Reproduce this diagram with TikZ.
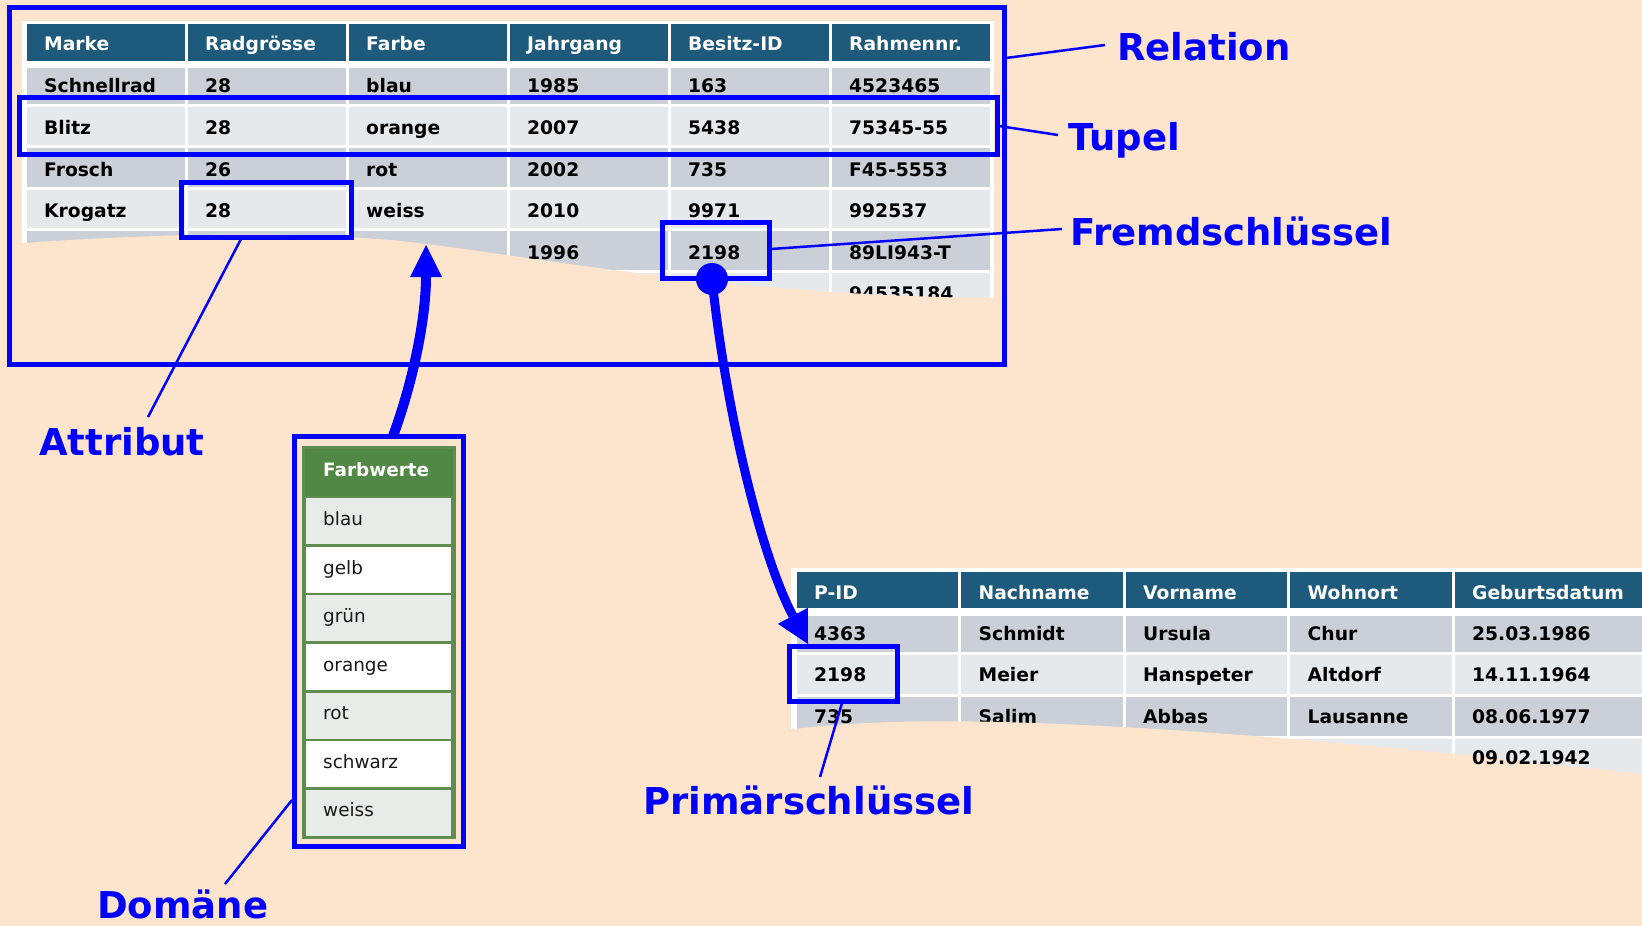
\documentclass[tikz,border=0pt]{standalone}
\usepackage{fontspec}
\setmainfont{DejaVu Sans}
\usetikzlibrary{arrows.meta,fit}
\definecolor{bgpeach}{RGB}{253,228,205}
\definecolor{hdblue}{RGB}{30,90,124}
\definecolor{rowdark}{RGB}{203,208,216}
\definecolor{rowlight}{RGB}{230,233,236}
\definecolor{annoblue}{RGB}{0,0,255}
\definecolor{grhead}{RGB}{82,136,70}
\definecolor{grline}{RGB}{95,140,80}
\definecolor{grrow}{RGB}{232,236,232}
\definecolor{txtdark}{RGB}{25,25,25}
\begin{document}
\begin{tikzpicture}[x=1pt,y=-1pt,
  ttxt/.style={anchor=base west, inner sep=0pt, text=black, font=\fontsize{18.7}{22}\selectfont\bfseries},
  htxt/.style={ttxt, text=white},
  dtxt/.style={anchor=base west, inner sep=0pt, text=txtdark, font=\fontsize{18.4}{22}\selectfont},
  dhtxt/.style={dtxt, text=white, font=\fontsize{18.4}{22}\selectfont\bfseries},
  annobox/.style={draw=annoblue, line width=5pt, rectangle, inner sep=0pt},
  lbl/.style={anchor=base west, inner sep=0pt, text=annoblue, font=\fontsize{37}{44}\selectfont\bfseries},
  thinline/.style={draw=annoblue, line width=2.5pt},
  domarrow/.style={draw=annoblue, line width=10pt, -{Triangle[length=32pt,width=32pt,line width=0pt]}},
  fkarrow/.style={draw=annoblue, line width=9pt, -{Triangle[length=32pt,width=34pt,line width=0pt]}}
]
\useasboundingbox (0,0) rectangle (1642,926);
\fill[bgpeach] (0,0) rectangle (1642,926);

% ---------------- Table 1 (Relation) ----------------
\fill[white] (22,21) rectangle (994,316);
\foreach \c in {0,...,5}
  \fill[hdblue] ({25+161*\c+1.5},24) rectangle ({25+161*(\c+1)-1.5},60.5);
\foreach \ya/\yb/\col in {67.5/103.5/rowdark, 106.5/145.1/rowlight, 148.1/186.7/rowdark, 189.7/228.3/rowlight, 231.3/269.9/rowdark, 272.9/311.5/rowlight}
  \foreach \c in {0,...,5}
    \fill[\col] ({25+161*\c+1.5},\ya) rectangle ({25+161*(\c+1)-1.5},\yb);

\foreach \t [count=\c from 0] in {Marke,Radgrösse,Farbe,Jahrgang,Besitz-ID,Rahmennr.}
  \node[htxt] (ah\c) at ({44+161*\c},50) {\t};
\foreach \t [count=\c from 0] in {Schnellrad,28,blau,1985,163,4523465}
  \node[ttxt] (aa\c) at ({44+161*\c},92.7) {\t};
\foreach \t [count=\c from 0] in {Blitz,28,orange,2007,5438,75345-55}
  \node[ttxt] (ab\c) at ({44+161*\c},134.35) {\t};
\foreach \t [count=\c from 0] in {Frosch,26,rot,2002,735,F45-5553}
  \node[ttxt] (ac\c) at ({44+161*\c},176) {\t};
\foreach \t [count=\c from 0] in {Krogatz,28,weiss,2010,9971,992537}
  \node[ttxt] (ad\c) at ({44+161*\c},217.65) {\t};
\node[ttxt] (ae3) at ({44+161*3},259.3) {1996};
\node[ttxt] (ae4) at ({44+161*4},259.3) {2198};
\node[ttxt] (ae5) at ({44+161*5},259.3) {89LI943-T};
\node[ttxt] (af5) at ({44+161*5},300.95) {94535184};

% wave cut of table 1
\fill[bgpeach] (20,243) -- (25,243) .. controls (120,236) and (280,229) .. (400,241)
  .. controls (510,252) and (720,296) .. (996,298) -- (996,322) -- (20,322) -- cycle;

% ---------------- Table 2 (Personen) ----------------
\fill[white] (791,568) rectangle (1650,781);
\foreach \c in {0,...,3}
  \fill[hdblue] ({795+164.5*\c+1.5},572) rectangle ({795+164.5*(\c+1)-1.5},607.5);
\fill[hdblue] ({795+164.5*4+1.5},572) rectangle (1650,607.5);
\foreach \ya/\yb/\col in {615.5/651.5/rowdark, 655/694/rowlight, 697/735.5/rowdark, 738.5/777/rowlight}
{
  \foreach \c in {0,...,3}
    \fill[\col] ({795+164.5*\c+1.5},\ya) rectangle ({795+164.5*(\c+1)-1.5},\yb);
  \fill[\col] ({795+164.5*4+1.5},\ya) rectangle (1650,\yb);
}
\foreach \t [count=\c from 0] in {P-ID,Nachname,Vorname,Wohnort,Geburtsdatum}
  \node[htxt] (bh\c) at ({814+164.5*\c},599) {\t};
\foreach \t [count=\c from 0] in {4363,Schmidt,Ursula,Chur,25.03.1986}
  \node[ttxt] (ba\c) at ({814+164.5*\c},640) {\t};
\foreach \t [count=\c from 0] in {2198,Meier,Hanspeter,Altdorf,14.11.1964}
  \node[ttxt] (bb\c) at ({814+164.5*\c},681.5) {\t};
\foreach \t [count=\c from 0] in {735,Salim,Abbas,Lausanne,08.06.1977}
  \node[ttxt] (bc\c) at ({814+164.5*\c},723) {\t};

% wave cut of table 2
\fill[bgpeach] (788,729) -- (795,729) .. controls (900,716) and (1100,713) .. (1642,774)
  -- (1650,774) -- (1650,792) -- (788,792) -- cycle;
\node[ttxt] (bd4) at ({814+164.5*4},764.5) {09.02.1942};

% ---------------- Domain table (Farbwerte) ----------------
\fill[grhead] (303,447) rectangle (454,497);
\foreach \r in {0,2,4,6}
  \filldraw[fill=grrow, draw=grline, line width=2.5pt] (304.5,{497+48.571*\r}) rectangle (452.5,{497+48.571*(\r+1)});
\foreach \r in {1,3,5}
  \filldraw[fill=white, draw=grline, line width=2.5pt] (304.5,{497+48.571*\r}) rectangle (452.5,{497+48.571*(\r+1)});
\draw[grline, line width=3pt] (303,447) rectangle (454,837);
\node[dhtxt] (dhead) at (323,476) {Farbwerte};
\foreach \t [count=\r from 0] in {blau,gelb,grün,orange,rot,schwarz,weiss}
  \node[dtxt] (dv\r) at (323,{497+48.571*\r+28.5}) {\t};

% ---------------- Annotations ----------------
\node[annobox, fit={(9,7) (1004,364)}] (relbox) {};
\node[annobox, fit={(19,97) (997,154.5)}] (tupbox) {};
\node[annobox, fit={(181,182) (351,237)}] (attbox) {};
\node[annobox, fit={(662,222) (769,278)}] (fkbox) {};
\node[annobox, fit={(789,646) (897,701)}] (pkbox) {};
\node[annobox, fit={(294,436) (463.5,846)}] (dombox) {};

\node[circle, fill=annoblue, minimum size=32pt, inner sep=0pt] (fkdot) at (712,279) {};

\node[lbl] (lrel) at (1117,60) {Relation};
\node[lbl] (ltup) at (1068,150) {Tupel};
\node[lbl] (lfk) at (1070,245) {Fremdschlüssel};
\node[lbl] (latt) at (39,455) {Attribut};
\node[lbl] (ldom) at (97,918) {Domäne};
\node[lbl] (lpk) at (643,814) {Primärschlüssel};

\coordinate (relA) at (1006,58);   \coordinate (relB) at (1105,45);
\coordinate (tupA) at (999,126);   \coordinate (tupB) at (1058,135);
\coordinate (fkA)  at (771,249);   \coordinate (fkB)  at (1062,229);
\coordinate (attA) at (241,239);   \coordinate (attB) at (148,417);
\coordinate (domA) at (292,800);   \coordinate (domB) at (225,884);
\coordinate (pkA)  at (842,703);   \coordinate (pkB)  at (820,777);
\draw[thinline] (relA) -- (relB);
\draw[thinline] (tupA) -- (tupB);
\draw[thinline] (fkA) -- (fkB);
\draw[thinline] (attA) -- (attB);
\draw[thinline] (domA) -- (domB);
\draw[thinline] (pkA) -- (pkB);

\coordinate (domtop) at (393,436);
\coordinate (farbtip) at (426,245);
\draw[domarrow] (domtop) .. controls (412,385) and (426,320) .. (farbtip);

\coordinate (pktip) at (808,644);
\draw[fkarrow] (fkdot.center) .. controls (727,420) and (763,560) .. (pktip);
\end{tikzpicture}
\end{document}
